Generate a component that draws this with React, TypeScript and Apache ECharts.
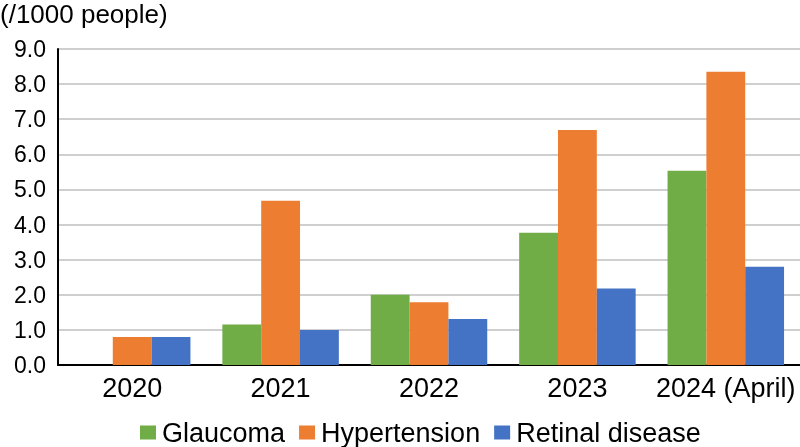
import React, { useEffect, useRef } from "react";
import * as echarts from "echarts";

const categories = ["2020", "2021", "2022", "2023", "2024 (April)"];
const glaucoma = [null, 1.15, 2.0, 3.77, 5.53];
const hypertension = [0.8, 4.68, 1.79, 6.69, 8.35];
const retinal = [0.8, 1.0, 1.31, 2.18, 2.8];
const seriesNames = ["Glaucoma", "Hypertension", "Retinal disease"];
const colors = ["#70AD47", "#ED7D31", "#4472C4"];
const unitLabel = "(/1000 people)";

export default function App() {
  const ref = useRef<HTMLDivElement>(null);
  useEffect(() => {
    if (!ref.current) return;
    const chart = echarts.init(ref.current, null, { renderer: "svg" });
    const font = "Liberation Sans, Arial, sans-serif";
    const data = [glaucoma, hypertension, retinal];
    chart.setOption({
      animation: false,
      title: {
        text: unitLabel,
        left: 0,
        top: 1,
        padding: 0,
        textStyle: { fontSize: 26, fontWeight: "normal", color: "#000", fontFamily: font },
      },
      grid: { left: 58, right: 0, top: 49, bottom: 82, containLabel: false },
      legend: {
        top: 419,
        left: 140,
        padding: 0,
        itemWidth: 16,
        itemHeight: 14,
        itemGap: 14,
        icon: "rect",
        textStyle: { fontSize: 27, color: "#000", fontFamily: font, padding: [0, 0, 0, 1] },
        data: seriesNames,
      },
      xAxis: {
        type: "category",
        data: categories,
        axisLine: { lineStyle: { color: "#000", width: 2 } },
        axisTick: { show: false },
        axisLabel: { fontSize: 27, color: "#000", fontFamily: font, margin: 9, interval: 0 },
      },
      yAxis: {
        type: "value",
        min: 0,
        max: 9,
        interval: 1,
        axisLine: { show: true, lineStyle: { color: "#000", width: 2 } },
        axisTick: { show: false },
        splitLine: { lineStyle: { color: "#BFBFBF", width: 1.5 } },
        axisLabel: {
          fontSize: 23,
          color: "#000",
          fontFamily: font,
          margin: 12,
          formatter: (v: number) => v.toFixed(1),
        },
      },
      series: seriesNames.map((name, i) => ({
        name,
        type: "bar",
        data: data[i],
        itemStyle: { color: colors[i] },
        barGap: "0%",
        barCategoryGap: "21.5%",
      })),
    });
    return () => chart.dispose();
  }, []);
  return (
    <div
      ref={ref}
      style={{ position: "fixed", left: 0, top: 0, width: 800, height: 447 }}
    />
  );
}
